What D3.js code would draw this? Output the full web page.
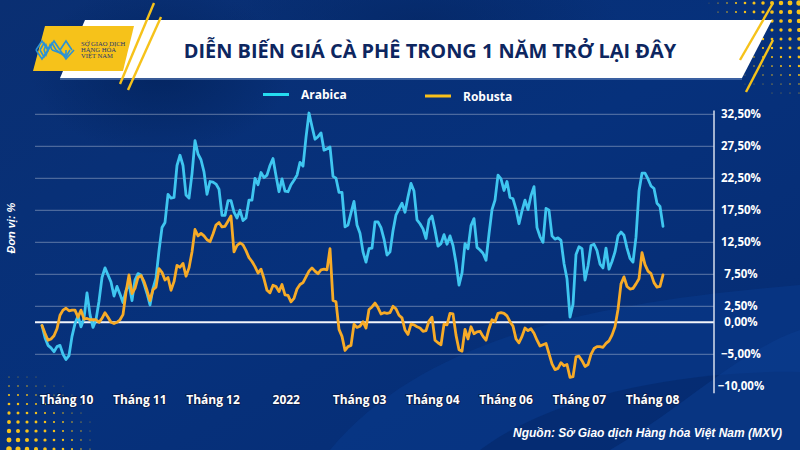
<!DOCTYPE html>
<html><head><meta charset="utf-8">
<script src="https://cdn.jsdelivr.net/npm/d3@7"></script>
<style>html,body{margin:0;padding:0;background:#062f78;} svg{display:block;}</style>
</head><body><svg id="c" width="800" height="450"></svg>
<script>
const seriesNames = ["Arabica", "Robusta"];
const arabica = [-0.5,-2.4,-3.6,-4.0,-4.6,-3.8,-3.6,-5.0,-5.8,-5.2,-2.2,-0.2,1.0,-0.7,0.6,4.6,1.2,-0.8,0.4,3.3,7.0,8.5,7.4,6.3,4.1,5.6,4.4,3.1,5.0,6.0,3.4,6.6,7.6,7.4,6.0,4.5,2.7,5.3,6.9,11.2,14.8,15.6,20.0,19.4,19.5,24.5,26.1,24.5,19.9,19.4,23.2,28.4,26.3,25.4,23.5,20.0,22.0,21.9,21.6,20.8,16.7,16.7,19.0,19.0,17.2,16.3,17.5,15.9,16.3,19.1,19.1,22.5,21.5,23.4,22.6,23.0,24.5,25.6,22.9,20.4,22.4,20.5,20.4,21.5,22.2,23.0,25.0,24.4,28.9,32.7,30.6,28.6,29.0,29.6,26.9,27.1,27.4,22.8,22.5,20.3,20.3,14.9,15.2,17.1,18.9,15.2,13.9,11.0,9.4,11.5,11.6,15.7,15.7,14.8,13.0,10.5,11.0,14.3,16.8,17.7,18.6,17.2,19.6,21.7,20.5,16.0,15.4,14.6,13.1,16.0,16.6,14.4,11.9,12.3,13.7,12.2,13.5,12.0,9.3,5.8,7.7,12.3,11.5,15.1,16.2,11.7,11.3,10.8,9.7,13.8,17.6,19.1,23.0,22.4,20.6,22.0,19.5,19.3,17.7,15.4,17.4,19.1,17.6,19.8,21.2,14.8,13.4,12.5,17.8,17.5,13.5,13.0,13.2,12.8,9.2,6.8,0.8,2.8,10.6,11.8,11.5,6.6,8.8,12.0,12.2,11.2,9.1,8.5,11.6,8.3,9.5,11.0,13.5,14.1,13.6,11.6,10.0,9.4,13.3,20.5,23.3,23.3,22.4,21.3,20.9,18.6,18.1,15.0];
const robusta = [-0.5,-1.7,-2.8,-2.6,-2.1,-1.0,1.1,1.9,2.2,1.8,1.9,1.9,0.8,1.9,0.5,0.6,0.4,0.4,0.4,0.0,0.6,1.5,0.8,0.0,-0.2,0.0,0.4,1.2,4.7,7.4,4.5,5.3,7.0,7.3,6.4,5.0,3.4,5.1,5.5,8.4,7.8,6.6,7.0,5.0,6.35,8.9,8.6,9.2,7.2,8.5,11.0,14.5,13.5,13.9,13.5,12.9,12.6,13.8,15.2,15.6,14.9,15.0,15.8,16.6,11.0,12.0,12.4,12.1,11.2,10.1,9.5,8.7,7.7,8.3,6.8,5.0,4.6,5.8,5.6,4.8,5.9,4.3,4.2,3.2,3.75,5.2,5.9,6.2,7.1,8.0,8.5,8.0,7.6,8.2,8.3,8.2,11.5,3.4,3.2,-1.1,-2.2,-4.4,-3.8,-3.6,-0.3,-0.8,-0.6,0.1,-0.9,2.0,2.4,3.0,2.3,1.3,1.5,1.4,1.5,2.5,2.1,1.1,0.7,-1.2,-1.9,-0.3,-0.4,-0.7,-0.9,-1.4,-1.3,0.2,0.8,-2.8,-3.2,-3.5,-0.3,-0.4,1.4,1.3,-2.0,-4.3,-4.5,-1.1,-2.6,-0.7,-1.8,-1.5,-1.4,-2.2,-2.8,-1.0,0.4,0.1,1.4,1.5,1.4,1.0,0.1,-0.6,-2.6,-3.2,-2.2,-0.9,-1.3,-1.0,-1.7,-2.8,-3.7,-3.5,-3.3,-4.9,-6.5,-7.4,-7.2,-6.3,-6.8,-6.6,-8.6,-8.5,-5.4,-5.3,-6.0,-6.9,-6.6,-5.0,-4.1,-3.8,-3.8,-3.9,-3.3,-2.9,-2.0,-0.7,2.0,6.0,7.1,5.6,5.2,5.3,6.0,6.8,10.9,9.0,8.0,7.6,6.2,5.5,5.6,7.4];
const xTickLabels = ["Tháng 10","Tháng 11","Tháng 12","2022","Tháng 03","Tháng 04","Tháng 06","Tháng 07","Tháng 08"];
const yTicks = [32.5,27.5,22.5,17.5,12.5,7.5,2.5,0,-5,-10];
const gridTicks = [32.5,27.5,22.5,17.5,12.5,7.5,2.5,-5];
const titleText = "DIỄN BIẾN GIÁ CÀ PHÊ TRONG 1 NĂM TRỞ LẠI ĐÂY";
const yTitle = "Đơn vị: %";
const sourceText = "Nguồn: Sở Giao dịch Hàng hóa Việt Nam (MXV)";
const logoLines = ["SỞ GIAO DỊCH","HÀNG HÓA","VIỆT NAM"];

const svg = d3.select("#c");
const W = 800, H = 450;
const colA = "#3fc6f0", colR = "#f7ab27";
const yellow = "#f6c21a";

// ---------- background ----------
const defs = svg.append("defs");
const bg = defs.append("linearGradient").attr("id","bg").attr("x1",0).attr("y1",0).attr("x2",1).attr("y2",1);
bg.append("stop").attr("offset","0%").attr("stop-color","#0a2f72");
bg.append("stop").attr("offset","50%").attr("stop-color","#06317c");
bg.append("stop").attr("offset","100%").attr("stop-color","#062c72");
svg.append("rect").attr("width",W).attr("height",H).attr("fill","url(#bg)");
const rg = defs.append("radialGradient").attr("id","dk");
rg.append("stop").attr("offset","0%").attr("stop-color","#03245f").attr("stop-opacity",0.9);
rg.append("stop").attr("offset","100%").attr("stop-color","#03245f").attr("stop-opacity",0);
svg.append("ellipse").attr("cx",160).attr("cy",70).attr("rx",130).attr("ry",85).attr("fill","url(#dk)");
svg.append("ellipse").attr("cx",420).attr("cy",20).attr("rx",200).attr("ry",60).attr("fill","url(#dk)").attr("opacity",0.6);
svg.append("path").attr("d","M330 450 C 430 330, 620 300, 800 285 L800 450 Z").attr("fill","#0a3a8c").attr("opacity",0.55);
svg.append("path").attr("d","M480 450 C 560 390, 700 370, 800 372 L800 450 Z").attr("fill","#042a6c").attr("opacity",0.7);
svg.append("path").attr("d","M610 450 C 680 410, 740 350, 800 330 L800 450 Z").attr("fill","#0b3d92").attr("opacity",0.5);

// dots top-right
const dotsTR = [];
for (let gx = 700; gx <= 800; gx += 9) for (let gy = 3; gy <= 95; gy += 9) {
  const r = 2.8 * ((gx - 695) / 105) * (1 - gy / 115);
  if (r > 0.35) dotsTR.push([gx, gy, r]);
}
svg.append("g").selectAll("circle").data(dotsTR).join("circle")
  .attr("cx",d=>d[0]).attr("cy",d=>d[1]).attr("r",d=>d[2]).attr("fill",yellow);
// dots bottom-left
const dotsBL = [];
for (let gx = 9; gx <= 110; gx += 9) for (let gy = 377; gy <= 450; gy += 9) {
  const r = 2.9 * (1 - (gx - 5) / 105) * ((gy - 360) / 90);
  if (r > 0.35) dotsBL.push([gx, gy, r]);
}
svg.append("g").selectAll("circle").data(dotsBL).join("circle")
  .attr("cx",d=>d[0]).attr("cy",d=>d[1]).attr("r",d=>d[2]).attr("fill",yellow);

// ---------- header ----------
svg.append("polygon").attr("points","85,20 772,20 742,78 60,78").attr("fill","#ffffff");
svg.append("line").attr("x1",60).attr("y1",79).attr("x2",742).attr("y2",79).attr("stroke","#6f8fc8").attr("stroke-width",1.2);
svg.append("polygon").attr("points","45,26 134,26 123,71 33,71").attr("fill",yellow);
[[154,3,120,84],[161,17,128,90],[773,3,740,60],[773,40,746,92]].forEach(l=>{
  svg.append("line").attr("x1",l[0]).attr("y1",l[1]).attr("x2",l[2]).attr("y2",l[3])
    .attr("stroke",yellow).attr("stroke-width",2.4);
});
// logo mark
const lg = svg.append("g").attr("fill","none").attr("stroke","#2b92d6").attr("stroke-width",1.6);
[0,4,8].forEach(o=>{
  lg.append("polyline").attr("points",`${36+o},${50} ${42+o/2},${41+o/2} ${48},${50} ${54-o/2},${41+o/2} ${60-o},${50}`);
  lg.append("polyline").attr("points",`${36+o},${50} ${42+o/2},${59-o/2} ${48},${50}`);
  lg.append("polyline").attr("points",`${60-o},${50} ${66},${59-o/2} ${74-o},${50}`);
});
lg.append("polyline").attr("points","60,50 66,41 72,50");
const lt = svg.append("g").attr("fill","#1d3570").attr("font-family","Liberation Serif, serif").attr("font-size",6.6);
logoLines.forEach((s,i)=> lt.append("text").attr("x",81).attr("y",45.5 + i*6.3).text(s));

const title = svg.append("text").attr("x",430).attr("y",50).attr("text-anchor","middle")
  .attr("dominant-baseline","central").attr("font-family","Open Sans, sans-serif")
  .attr("font-weight",700).attr("font-size",21).attr("fill","#0d2660").text(titleText);
const tw = title.node().getComputedTextLength();
title.attr("font-size", 21 * 493 / tw);

// ---------- chart ----------
const N = arabica.length;
const x = d3.scaleLinear().domain([0, N - 1]).range([42, 663]);
const y = d3.scaleLinear().domain([-10, 32.5]).range([386.3, 114.3]);
const xl = d3.scalePoint().domain(xTickLabels).range([66, 652]);
const gL = 35, gR = 714;

svg.append("g").selectAll("line").data(gridTicks).join("line")
  .attr("x1",gL).attr("x2",gR).attr("y1",d=>y(d)).attr("y2",d=>y(d))
  .attr("stroke","#ffffff").attr("stroke-opacity",0.28).attr("stroke-width",1.3);
svg.append("line").attr("x1",gL).attr("x2",gR).attr("y1",y(0)).attr("y2",y(0))
  .attr("stroke","#f2f4fa").attr("stroke-width",2);

// right axis
const fmt = v => d3.format(".2f")(v).replace(".", ",") + "%";
const ya = svg.append("g").attr("transform",`translate(${gR},0)`)
  .call(d3.axisRight(y).tickValues(yTicks).tickSize(0).tickFormat(fmt));
ya.select(".domain").remove();
ya.selectAll("text").attr("x",27).attr("text-anchor","middle").attr("fill","#ffffff")
  .attr("font-family","Open Sans, sans-serif").attr("font-weight",700).attr("font-size",11.5);
svg.append("line").attr("x1",gR).attr("x2",gR).attr("y1",y(33.1)).attr("y2",y(-11.1))
  .attr("stroke","#d7deec").attr("stroke-width",1.5);

// bottom labels
const xa = svg.append("g").attr("transform","translate(0,392)")
  .call(d3.axisBottom(xl).tickSize(0).tickPadding(0));
xa.select(".domain").remove();
xa.selectAll("text").attr("dy","0.32em").attr("y",8).attr("fill","#ffffff")
  .attr("font-family","Open Sans, sans-serif").attr("font-weight",700).attr("font-size",12)
  .attr("stroke","#0a1f50").attr("stroke-width",2).attr("paint-order","stroke").attr("stroke-linejoin","round");

// lines
const line = d3.line().x((d,i)=>x(i)).y(d=>y(d));
svg.append("path").datum(arabica).attr("d",line).attr("fill","none").attr("stroke",colA)
  .attr("stroke-width",2.8).attr("stroke-linejoin","round").attr("stroke-linecap","round");
svg.append("path").datum(robusta).attr("d",line).attr("fill","none").attr("stroke",colR)
  .attr("stroke-width",2.8).attr("stroke-linejoin","round").attr("stroke-linecap","round");

// legend
const legItems = [{name:seriesNames[0], c:"#25dcef", x:263, y:94.5},{name:seriesNames[1], c:"#f9c01a", x:425, y:96}];
const leg = svg.append("g").selectAll("g").data(legItems).join("g").attr("transform",d=>`translate(${d.x},${d.y})`);
leg.append("line").attr("x1",0).attr("x2",26).attr("stroke",d=>d.c).attr("stroke-width",3);
leg.append("text").attr("x",38).attr("dominant-baseline","central").attr("fill","#ffffff")
  .attr("font-family","Open Sans, sans-serif").attr("font-weight",700).attr("font-size",12).text(d=>d.name);

// y title
svg.append("text").attr("transform","translate(11,228) rotate(-90)").attr("text-anchor","middle")
  .attr("dominant-baseline","central").attr("fill","#ffffff").attr("font-family","Liberation Sans, Arial, sans-serif")
  .attr("font-style","italic").attr("font-weight",700).attr("font-size",11).text(yTitle);

// source
svg.append("text").attr("x",782).attr("y",433).attr("text-anchor","end").attr("dominant-baseline","central")
  .attr("fill","#ffffff").attr("font-family","Liberation Sans, Arial, sans-serif")
  .attr("font-style","italic").attr("font-weight",700).attr("font-size",12).text(sourceText);
</script></body></html>
